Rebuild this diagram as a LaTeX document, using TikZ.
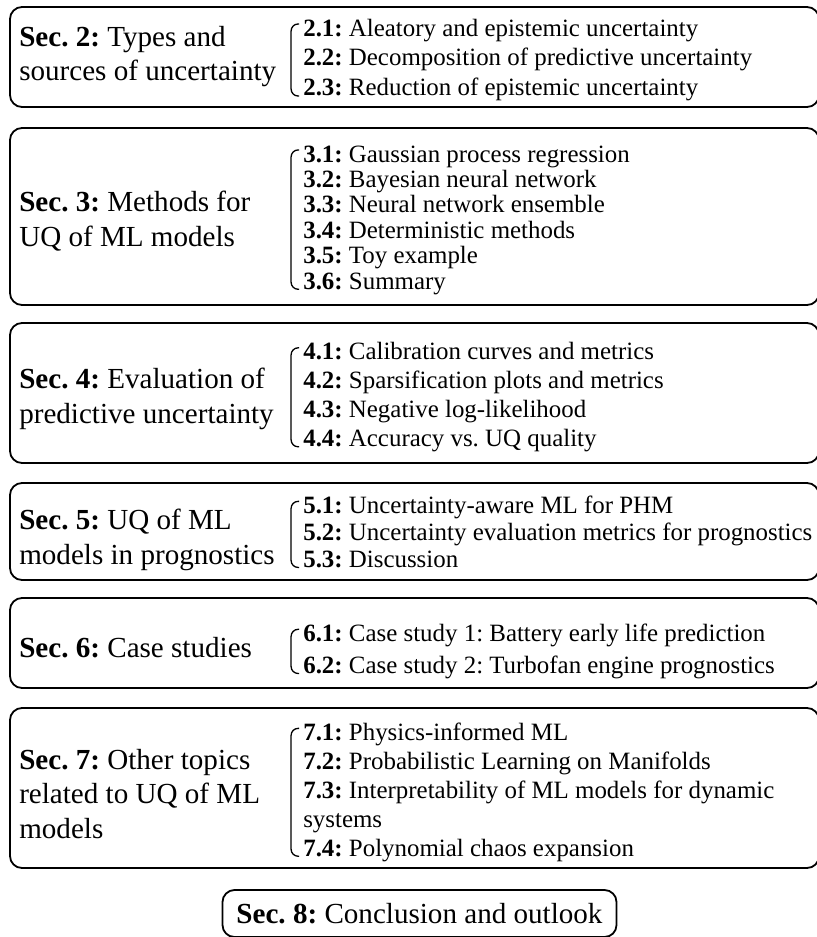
\documentclass[tikz,border=0pt]{standalone}
\usepackage{fontspec}
\setmainfont{Liberation Serif}
\usetikzlibrary{calc}

\tikzset{
  secbox/.style={draw, line width=1.8bp, rounded corners=12bp, minimum width=809bp, inner sep=0pt},
  endbox/.style={draw, line width=1.8bp, rounded corners=12bp, inner xsep=14bp, minimum height=47bp,
    font=\fontsize{29.2}{35}\selectfont},
  sectext/.style={anchor=west, align=left, inner sep=0pt, font=\fontsize{29.2}{35}\selectfont},
  itemtext/.style={anchor=west, align=left, inner sep=0pt, font=\fontsize{25}{#1}\selectfont},
  itemtext/.default=30,
  bracket/.style={line width=1.3bp, rounded corners=7bp},
}
\newcommand{\secitem}[2]{\strut\textbf{#1:} #2}
% #1 = nodo de la lista, #2 = interlineado
\newcommand{\secbrace}[2]{%
  \draw[bracket] ($(#1.north west)+(-4,{0.7*#2-12})$) -- ($(#1.north west)+(-12,{0.7*#2-12})$)
    -- ($(#1.south west)+(-12,{-0.3*#2})$) -- ($(#1.south west)+(-4,{-0.3*#2})$);}

\begin{document}
\frenchspacing
\begin{tikzpicture}[x=1bp, y=-1bp]
  \useasboundingbox (0,0) rectangle (817,937);

  % Sec. 2
  \node[secbox, minimum height=100bp] (b2) at (414.5,57) {};
  \node[sectext] (t2) at ($(b2.west)+(10,-0.5)$) {\textbf{Sec. 2:} Types and\\sources of uncertainty};
  \node[itemtext] (i2) at ($(b2.west)+(294,3)$) {%
    \secitem{2.1}{Aleatory and epistemic uncertainty}\\
    \secitem{2.2}{Decomposition of predictive uncertainty}\\
    \secitem{2.3}{Reduction of epistemic uncertainty}};

  % Sec. 3
  \node[secbox, minimum height=177bp] (b3) at (414.5,216.5) {};
  \node[sectext] (t3) at ($(b3.west)+(10,5)$) {\textbf{Sec. 3:} Methods for\\UQ of ML models};
  \node[itemtext=25.5] (i3) at ($(b3.west)+(294,4)$) {%
    \secitem{3.1}{Gaussian process regression}\\
    \secitem{3.2}{Bayesian neural network}\\
    \secitem{3.3}{Neural network ensemble}\\
    \secitem{3.4}{Deterministic methods}\\
    \secitem{3.5}{Toy example}\\
    \secitem{3.6}{Summary}};

  % Sec. 4
  \node[secbox, minimum height=140bp] (b4) at (414.5,393) {};
  \node[sectext] (t4) at ($(b4.west)+(10,5.5)$) {\textbf{Sec. 4:} Evaluation of\\predictive uncertainty};
  \node[itemtext=29] (i4) at ($(b4.west)+(294,4.5)$) {%
    \secitem{4.1}{Calibration curves and metrics}\\
    \secitem{4.2}{Sparsification plots and metrics}\\
    \secitem{4.3}{Negative log-likelihood}\\
    \secitem{4.4}{Accuracy vs. UQ quality}};

  % Sec. 5
  \node[secbox, minimum height=97bp] (b5) at (414.5,531.5) {};
  \node[sectext] (t5) at ($(b5.west)+(10,8)$) {\textbf{Sec. 5:} UQ of ML\\models in prognostics};
  \node[itemtext=27] (i5) at ($(b5.west)+(294,3.5)$) {%
    \secitem{5.1}{Uncertainty-aware ML for PHM}\\
    \secitem{5.2}{Uncertainty evaluation metrics for prognostics}\\
    \secitem{5.3}{Discussion}};

  % Sec. 6
  \node[secbox, minimum height=90bp] (b6) at (414.5,643) {};
  \node[sectext] (t6) at ($(b6.west)+(10,5)$) {\textbf{Sec. 6:} Case studies};
  \node[itemtext=32] (i6) at ($(b6.west)+(294,8)$) {%
    \secitem{6.1}{Case study 1: Battery early life prediction}\\
    \secitem{6.2}{Case study 2: Turbofan engine prognostics}};

  % Sec. 7
  \node[secbox, minimum height=160bp] (b7) at (414.5,788) {};
  \node[sectext] (t7) at ($(b7.west)+(10,6)$) {\textbf{Sec. 7:} Other topics\\related to UQ of ML\\models};
  \node[itemtext=29] (i7) at ($(b7.west)+(294,4.5)$) {%
    \secitem{7.1}{Physics-informed ML}\\
    \secitem{7.2}{Probabilistic Learning on Manifolds}\\
    \secitem{7.3}{Interpretability of ML models for dynamic}\\
    \strut systems\\
    \secitem{7.4}{Polynomial chaos expansion}};

  % Llaves de las subsecciones
  \foreach \n/\s in {2/30, 3/25.5, 4/29, 5/27, 6/32, 7/29}
    \secbrace{i\n}{\s};

  % Sec. 8
  \node[endbox] (b8) at (419.5,913.5) {\textbf{Sec. 8:} Conclusion and outlook};
\end{tikzpicture}
\end{document}
